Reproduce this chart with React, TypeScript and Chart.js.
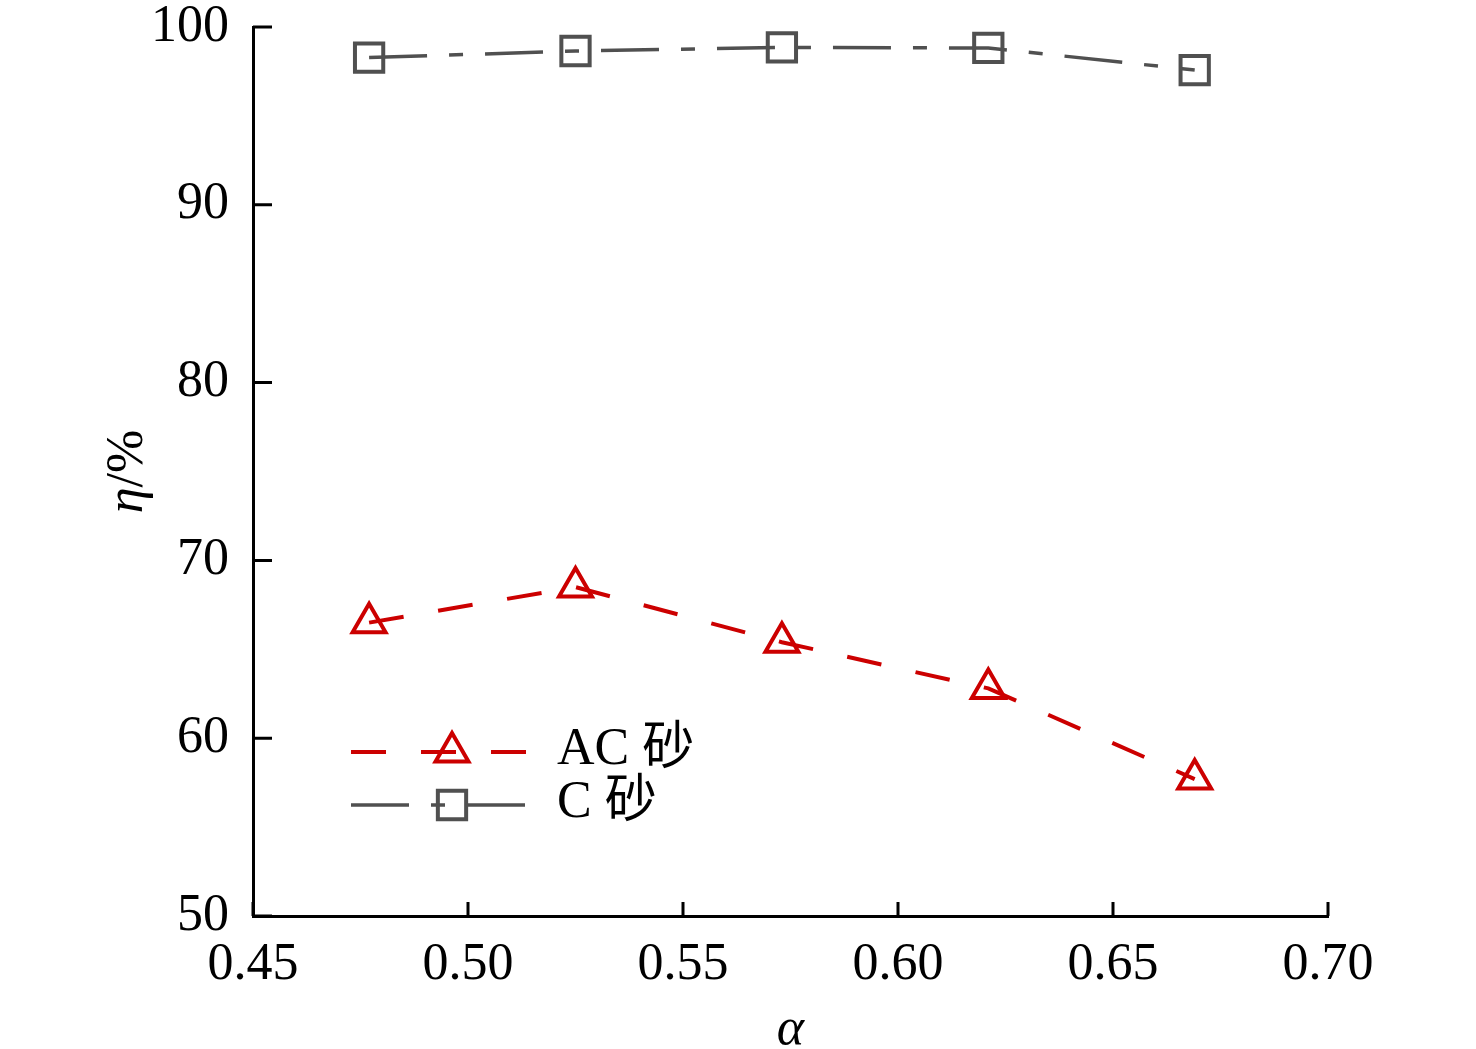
import { useEffect, useRef } from 'react';
import { Chart, registerables } from 'chart.js';

Chart.register(...registerables);

// ---- data ----
const alphaValues = [0.477, 0.525, 0.573, 0.621, 0.669];
const acSand = [66.5, 68.5, 65.4, 62.8, 57.7];
const cSand = [98.28, 98.65, 98.85, 98.82, 97.58];
const seriesNames = ['AC 砂', 'C 砂'];
const xRange = [0.45, 0.7];
const yRange = [50, 100];
const xStep = 0.05;
const yStep = 10;

const SERIF = "'Liberation Serif', 'Times New Roman', 'Noto Sans CJK SC', serif";
const RED = '#cc0000';
const GRAY = '#505050';
const RED_DASH = [35, 35];
const GRAY_DASH = [58, 22, 14, 22];

function drawMarker(ctx: CanvasRenderingContext2D, kind: string, x: number, y: number, r: number) {
  ctx.beginPath();
  if (kind === 'triangle') {
    ctx.moveTo(x, y - r);
    ctx.lineTo(x + Math.sin((2 * Math.PI) / 3) * r, y - Math.cos((2 * Math.PI) / 3) * r);
    ctx.lineTo(x + Math.sin((4 * Math.PI) / 3) * r, y - Math.cos((4 * Math.PI) / 3) * r);
    ctx.closePath();
  } else {
    const s = Math.SQRT1_2 * r;
    ctx.rect(x - s, y - s, 2 * s, 2 * s);
  }
  ctx.stroke();
}

const decorPlugin = {
  id: 'decor',
  afterDraw(chart: any) {
    const ctx: CanvasRenderingContext2D = chart.ctx;
    const { left, bottom } = chart.chartArea;
    const xs = chart.scales.x;
    const ys = chart.scales.y;
    ctx.save();
    // inward ticks
    ctx.strokeStyle = '#000';
    ctx.lineWidth = 3;
    ctx.setLineDash([]);
    ctx.beginPath();
    ys.ticks.forEach((t: any) => {
      const y = ys.getPixelForValue(t.value);
      ctx.moveTo(left, y);
      ctx.lineTo(left + 19, y);
    });
    xs.ticks.forEach((t: any) => {
      const x = xs.getPixelForValue(t.value);
      ctx.moveTo(x, bottom);
      ctx.lineTo(x, bottom - 14);
    });
    ctx.stroke();

    // axis titles
    ctx.fillStyle = '#000';
    ctx.textBaseline = 'middle';
    ctx.textAlign = 'center';
    ctx.font = `italic 52px ${SERIF}`;
    ctx.fillText('α', (xs.left + xs.right) / 2, 1030);

    ctx.save();
    ctx.translate(128, (ys.top + ys.bottom) / 2);
    ctx.rotate(-Math.PI / 2);
    ctx.font = `italic 52px ${SERIF}`;
    const w1 = ctx.measureText('η').width;
    ctx.font = `52px ${SERIF}`;
    const w2 = ctx.measureText('/%').width;
    const start = -(w1 + w2) / 2;
    ctx.textAlign = 'left';
    ctx.font = `italic 52px ${SERIF}`;
    ctx.fillText('η', start, 0);
    ctx.font = `52px ${SERIF}`;
    ctx.fillText('/%', start + w1, 0);
    ctx.restore();

    // legend
    const entries = [
      { label: seriesNames[0], color: RED, dash: RED_DASH, marker: 'triangle', r: 19, y: 752, lw: 4 },
      { label: seriesNames[1], color: GRAY, dash: GRAY_DASH, marker: 'rect', r: 20, y: 805, lw: 3.5 },
    ];
    entries.forEach((e) => {
      ctx.strokeStyle = e.color;
      ctx.lineWidth = e.lw;
      ctx.setLineDash(e.dash);
      ctx.beginPath();
      ctx.moveTo(351, e.y);
      ctx.lineTo(527, e.y);
      ctx.stroke();
      ctx.setLineDash([]);
      ctx.lineWidth = 4;
      drawMarker(ctx, e.marker, 452, e.y, e.r);
      ctx.fillStyle = '#000';
      ctx.font = `52px ${SERIF}`;
      ctx.textAlign = 'left';
      ctx.textBaseline = 'alphabetic';
      ctx.fillText(e.label, 557, e.y + 12);
    });
    ctx.restore();
  },
};

export default function App() {
  const canvasRef = useRef<HTMLCanvasElement | null>(null);

  useEffect(() => {
    document.body.style.margin = '0';
    const canvas = canvasRef.current;
    if (!canvas) return;
    const chart = new Chart(canvas, {
      type: 'scatter',
      data: {
        datasets: [
          {
            label: seriesNames[0],
            data: alphaValues.map((x, i) => ({ x, y: acSand[i] })),
            showLine: true,
            borderColor: RED,
            borderWidth: 4,
            borderDash: RED_DASH,
            pointStyle: 'triangle',
            pointRadius: 19,
            pointBorderWidth: 4,
            pointBorderColor: RED,
            pointBackgroundColor: 'rgba(0,0,0,0)',
            tension: 0,
          },
          {
            label: seriesNames[1],
            data: alphaValues.map((x, i) => ({ x, y: cSand[i] })),
            showLine: true,
            borderColor: GRAY,
            borderWidth: 3.5,
            borderDash: GRAY_DASH,
            pointStyle: 'rect',
            pointRadius: 20,
            pointBorderWidth: 4,
            pointBorderColor: GRAY,
            pointBackgroundColor: 'rgba(0,0,0,0)',
            tension: 0,
          },
        ],
      },
      options: {
        responsive: false,
        animation: false,
        devicePixelRatio: 1,
        layout: { padding: { left: 0, right: 148, top: 27, bottom: 0 } },
        plugins: {
          legend: { display: false },
          tooltip: { enabled: false },
        },
        scales: {
          x: {
            type: 'linear',
            min: xRange[0],
            max: xRange[1],
            grid: { display: false },
            border: { display: true, color: '#000', width: 3 },
            ticks: {
              stepSize: xStep,
              padding: 10,
              color: '#000',
              font: { family: SERIF, size: 52 },
              callback: (v: any) => Number(v).toFixed(2),
              maxRotation: 0,
              autoSkip: false,
            },
            afterFit: (s: any) => {
              s.height = 133;
              s.paddingLeft = 0;
              s.paddingRight = 0;
            },
          },
          y: {
            type: 'linear',
            min: yRange[0],
            max: yRange[1],
            grid: { display: false },
            border: { display: true, color: '#000', width: 3 },
            ticks: {
              stepSize: yStep,
              padding: 16,
              color: '#000',
              font: { family: SERIF, size: 52 },
              autoSkip: false,
            },
            afterFit: (s: any) => {
              s.width = 253;
              s.paddingTop = 0;
              s.paddingBottom = 0;
            },
          },
        },
      },
      plugins: [decorPlugin],
    });
    return () => chart.destroy();
  }, []);

  return (
    <div style={{ width: 1476, height: 1049, background: '#fff' }}>
      <canvas ref={canvasRef} width={1476} height={1049} style={{ display: 'block' }} />
    </div>
  );
}
